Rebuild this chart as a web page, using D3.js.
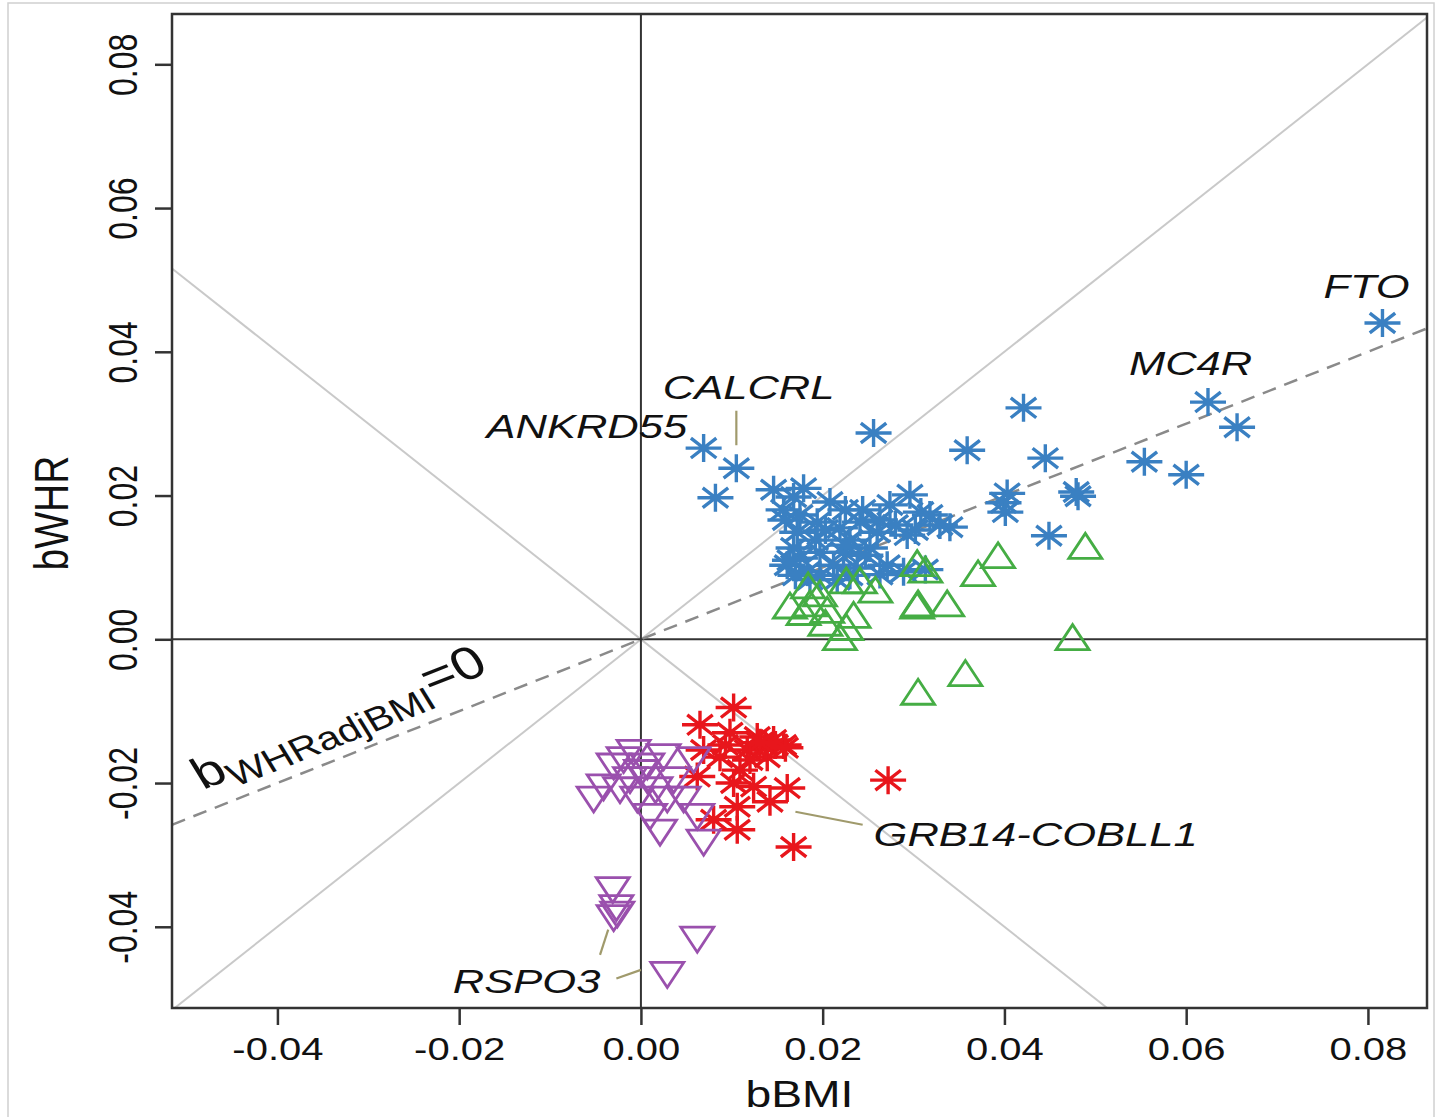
<!DOCTYPE html>
<html><head><meta charset="utf-8">
<script src="https://cdn.jsdelivr.net/npm/d3@7"></script>
<style>html,body{margin:0;padding:0;background:#fff;} svg{display:block;}</style>
</head><body>
<script>
// ---- data ----
const blueX = [0.0816,0.0624,0.0656,0.0554,0.0600,0.0421,0.0445,0.0481,0.0479,0.0449,0.0359,0.0256,0.0069,0.0105,0.0082,0.0403,0.0399,0.0401,0.0146,0.0179,0.0168,0.0208,0.0296,0.0274,0.0329,0.0340,0.0194,0.0172,0.0219,0.0241,0.0260,0.0293,0.0175,0.0197,0.0223,0.0252,0.0161,0.0183,0.0212,0.0238,0.0271,0.0289,0.0263,0.0186,0.0216,0.0168,0.0230,0.0313,0.0308,0.0157,
  0.0159,0.0175,0.0192,0.0203,0.0164,0.0225,0.0247,0.0197,0.0230,0.0170,0.0263,0.0280,0.0318,0.0302,0.0244,0.0225];
const blueY = [0.0440,0.0330,0.0295,0.0247,0.0229,0.0322,0.0252,0.0199,0.0205,0.0144,0.0263,0.0287,0.0266,0.0238,0.0197,0.0203,0.0190,0.0177,0.0208,0.0210,0.0198,0.0191,0.0201,0.0187,0.0159,0.0156,0.0163,0.0149,0.0155,0.0163,0.0149,0.0145,0.0113,0.0121,0.0121,0.0127,0.0103,0.0094,0.0103,0.0099,0.0103,0.0094,0.0090,0.0083,0.0083,0.0127,0.0138,0.0097,0.0177,0.0180,
  0.0166,0.0173,0.0138,0.0152,0.0110,0.0131,0.0117,0.0089,0.0089,0.0089,0.0166,0.0159,0.0173,0.0152,0.0180,0.0180];
const greenX = [0.0489,0.0393,0.0371,0.0313,0.0304,0.0305,0.0337,0.0304,0.0475,0.0357,0.0305,0.0184,0.0164,0.0186,0.0197,0.0179,0.0205,0.0226,0.0241,0.0258,0.0234,0.0203,0.0219,0.0226];
const greenY = [0.0130,0.0117,0.0092,0.0097,0.0106,0.0050,0.0050,0.0047,0.0003,-0.0047,-0.0073,0.0075,0.0047,0.0050,0.0064,0.0038,0.0041,0.0082,0.0082,0.0069,0.0034,0.0023,0.0003,0.0017];
const redX = [0.0102,0.0065,0.0098,0.0128,0.0146,0.0157,0.0069,0.0087,0.0117,0.0139,0.0109,0.0062,0.0102,0.0124,0.0161,0.0142,0.0106,0.0080,0.0106,0.0168,0.0272,0.0137,0.0148,0.0159,0.0131,0.0120,0.0093];
const redY = [-0.0095,-0.0119,-0.0130,-0.0136,-0.0140,-0.0147,-0.0154,-0.0164,-0.0154,-0.0164,-0.0182,-0.0191,-0.0200,-0.0205,-0.0207,-0.0226,-0.0233,-0.0251,-0.0265,-0.0289,-0.0196,-0.0147,-0.0147,-0.0151,-0.0144,-0.0168,-0.0147];
const purpleX = [-0.0008,-0.0019,-0.0030,0.0025,0.0058,-0.0041,-0.0052,0.0007,0.0036,-0.0023,0.0029,-0.0004,0.0010,0.0021,0.0047,0.0062,0.0069,0.0007,-0.0012,0.0000,0.0016,-0.0031,-0.0027,-0.0030,-0.0026,0.0062,0.0029];
const purpleY = [-0.0158,-0.0168,-0.0177,-0.0164,-0.0168,-0.0206,-0.0223,-0.0196,-0.0196,-0.0210,-0.0223,-0.0223,-0.0247,-0.0269,-0.0223,-0.0247,-0.0283,-0.0177,-0.0196,-0.0186,-0.0210,-0.0349,-0.0374,-0.0388,-0.0383,-0.0418,-0.0467];
const xTicks = [-0.04,-0.02,0.00,0.02,0.04,0.06,0.08];
const yTicks = [-0.04,-0.02,0.00,0.02,0.04,0.06,0.08];
const geneNames = ["FTO","MC4R","CALCRL","ANKRD55","GRB14-COBLL1","RSPO3"];
const geneLabelX = [0.0751,0.0537,0.0024,-0.0170,0.0256,-0.0207];
const geneLabelY = [0.0475,0.0368,0.0334,0.0280,-0.0288,-0.0492];
const leaderX1 = [0.0105,0.0170,-0.0045,-0.0027];
const leaderY1 = [0.0318,-0.0240,-0.0439,-0.0472];
const leaderX2 = [0.0105,0.0244,-0.0036,0.0000];
const leaderY2 = [0.0270,-0.0258,-0.0404,-0.0460];
const adjSlope = 0.5;

// ---- layout ----
const W = 1435, H = 1117;
const L = 172, R = 1427, T = 14, B = 1008;
const x = d3.scaleLinear().domain([-0.0516, 0.0865]).range([L, R]);
const y = d3.scaleLinear().domain([-0.0513, 0.0870]).range([B, T]);
const SX = 1.25;
const FONT = "'Liberation Sans', Arial, Helvetica, sans-serif";
const fmt = v => d3.format(".2f")(v).replace("\u2212","-");

const svg = d3.select("body").append("svg").attr("width", W).attr("height", H);
svg.append("rect").attr("x",8).attr("y",3).attr("width",1426).attr("height",1120)
  .attr("fill","#fff").attr("stroke","#d0d0d0").attr("stroke-width",1.5);

svg.append("clipPath").attr("id","clip").append("rect")
  .attr("x",L).attr("y",T).attr("width",R-L).attr("height",B-T);
const g = svg.append("g").attr("clip-path","url(#clip)");

const [x0,x1] = x.domain();
g.append("line").attr("x1",x(x0)).attr("y1",y(x0)).attr("x2",x(x1)).attr("y2",y(x1))
  .attr("stroke","#c9c9c9").attr("stroke-width",2);
g.append("line").attr("x1",x(x0)).attr("y1",y(-x0)).attr("x2",x(x1)).attr("y2",y(-x1))
  .attr("stroke","#c9c9c9").attr("stroke-width",2);
g.append("line").attr("x1",x(0)).attr("x2",x(0)).attr("y1",T).attr("y2",B).attr("stroke","#333").attr("stroke-width",2);
g.append("line").attr("x1",L).attr("x2",R).attr("y1",y(0)).attr("y2",y(0)).attr("stroke","#333").attr("stroke-width",2);
g.append("line").attr("x1",x(x0)).attr("y1",y(adjSlope*x0)).attr("x2",x(x1)).attr("y2",y(adjSlope*x1))
  .attr("stroke","#8a8a8a").attr("stroke-width",2.5).attr("stroke-dasharray","14,9");

for (let i=0;i<leaderX1.length;i++){
  g.append("line").attr("x1",x(leaderX1[i])).attr("y1",y(leaderY1[i]))
    .attr("x2",x(leaderX2[i])).attr("y2",y(leaderY2[i]))
    .attr("stroke","#a09a6c").attr("stroke-width",2.2);
}

const hw = 18, hh = 14;
function star(sel, xs, ys, col){
  const d = xs.map((v,i)=>[x(v),y(ys[i])]);
  sel.selectAll(null).data(d).enter().append("path")
    .attr("d",([px,py]) =>
      `M${px-hw},${py}L${px+hw},${py}M${px},${py-hh}L${px},${py+hh}` +
      `M${px-hw*0.707},${py-hh*0.707}L${px+hw*0.707},${py+hh*0.707}` +
      `M${px-hw*0.707},${py+hh*0.707}L${px+hw*0.707},${py-hh*0.707}`)
    .attr("stroke",col).attr("stroke-width",3.4).attr("fill","none").attr("stroke-linecap","butt");
}
const tw = 16.5, th = 12.5;
function tri(sel, xs, ys, col, up){
  const d = xs.map((v,i)=>[x(v),y(ys[i])]);
  sel.selectAll(null).data(d).enter().append("path")
    .attr("d",([px,py]) => up
      ? `M${px},${py-th}L${px+tw},${py+th}L${px-tw},${py+th}Z`
      : `M${px},${py+th}L${px+tw},${py-th}L${px-tw},${py-th}Z`)
    .attr("stroke",col).attr("stroke-width",2.8).attr("fill","none").attr("stroke-linejoin","miter");
}
star(g.append("g"), blueX, blueY, "#3a80c2");
tri(g.append("g"), greenX, greenY, "#45ad44", true);
star(g.append("g"), redX, redY, "#e8161c");
tri(g.append("g"), purpleX, purpleY, "#9a50ad", false);

svg.append("rect").attr("x",L).attr("y",T).attr("width",R-L).attr("height",B-T)
  .attr("fill","none").attr("stroke","#333").attr("stroke-width",2.5);

const xAxis = svg.append("g").attr("transform",`translate(0,${B})`)
  .call(d3.axisBottom(x).tickValues(xTicks).tickSize(17).tickSizeOuter(0).tickFormat(fmt));
xAxis.select(".domain").remove();
xAxis.selectAll(".tick line").attr("stroke","#333").attr("stroke-width",2.5);
xAxis.selectAll(".tick text").attr("y",0).attr("dy",null)
  .attr("transform",`translate(0,52) scale(${SX},1)`)
  .attr("font-family",FONT).attr("font-size",32).attr("fill","#111").attr("text-anchor","middle");

const yAxis = svg.append("g").attr("transform",`translate(${L},0)`)
  .call(d3.axisLeft(y).tickValues(yTicks).tickSize(17).tickSizeOuter(0).tickFormat(fmt));
yAxis.select(".domain").remove();
yAxis.selectAll(".tick line").attr("stroke","#333").attr("stroke-width",2.5);
yAxis.selectAll(".tick text").attr("x",0).attr("dy",null)
  .attr("transform",`translate(-35,0) scale(${SX},1) rotate(-90)`)
  .attr("font-family",FONT).attr("font-size",32).attr("fill","#111").attr("text-anchor","middle");

svg.append("text").attr("transform",`translate(${(L+R)/2},1107) scale(${SX},1)`)
  .attr("text-anchor","middle").attr("font-family",FONT).attr("font-size",37).attr("fill","#111").text("bBMI");
svg.append("text").attr("transform",`translate(68,${(T+B)/2 + 2}) scale(${SX},1) rotate(-90)`)
  .attr("text-anchor","middle").attr("font-family",FONT).attr("font-size",39).attr("fill","#111").text("bWHR");

geneNames.forEach((n,i)=>{
  svg.append("text").attr("transform",`translate(${x(geneLabelX[i])},${y(geneLabelY[i])}) scale(1.28,1)`)
    .attr("font-family",FONT).attr("font-style","italic").attr("font-size",34).attr("fill","#111").text(n);
});

const ang = Math.atan(adjSlope * (y(0)-y(1)) / (x(1)-x(0)) * SX) * 180/Math.PI;
const lab = svg.append("text").attr("transform",`translate(203,790) scale(${SX},1) rotate(${-ang})`)
  .attr("font-family",FONT).attr("fill","#111");
lab.append("tspan").attr("font-size",44).text("b");
lab.append("tspan").attr("font-size",33).attr("dy",9).text("WHRadjBMI");
lab.append("tspan").attr("font-size",46).attr("dy",-13).text("=0");
</script>
</body></html>
